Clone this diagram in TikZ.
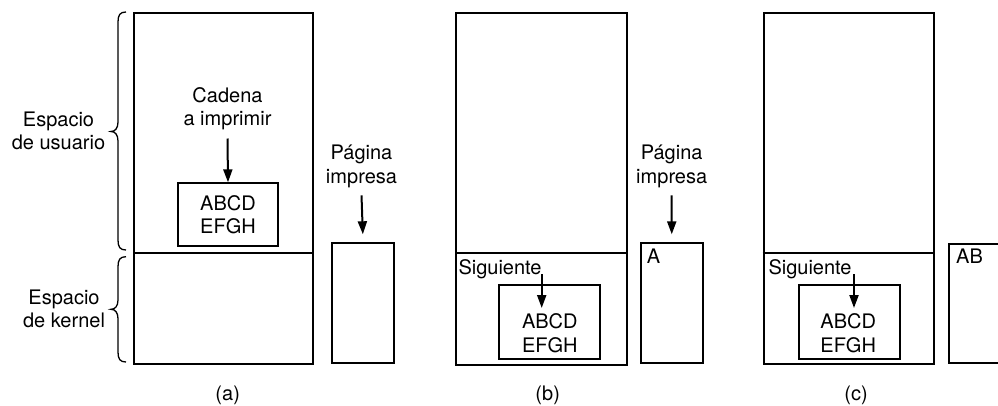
\documentclass[tikz,border=0pt]{standalone}
\usepackage{fontspec}
\setmainfont{TeX Gyre Heros}
\usetikzlibrary{arrows.meta}
\begin{document}
\begin{tikzpicture}[x=1pt,y=-1pt,
  box/.style={draw,line width=2pt,inner sep=0pt,anchor=north west},
  lbl/.style={font=\fontsize{20}{23.5}\selectfont,align=center,inner sep=0pt,anchor=north},
  arr/.style={line width=2pt,-{Triangle[length=13pt,width=9pt]}},
  bracestyle/.style={line width=1.3pt},
  divider/.style={line width=1.8pt}]
\useasboundingbox (0,0) rectangle (998,405);

% ---------- (a) ----------
\node[box,minimum width=178.4pt,minimum height=351.3pt] (ua) at (133.3,12) {};
\draw[divider] (133.3,253.3) -- (311.7,253.3);
\node[box,minimum width=100.6pt,minimum height=62.7pt] (ia) at (176.7,182.3) {};
\node[lbl] (abca) at (228,195) {ABCD\\EFGH};
\node[lbl] (cad) at (227.5,87.3) {Cadena\\a imprimir};
\draw[arr] ([yshift=-8pt]cad.south) -- (ia.north);
\node[box,minimum width=61.7pt,minimum height=120pt] (pga) at (331,242.3) {};
\node[lbl] (pa) at (361.5,145) {Página\\impresa};
\draw[arr] ([yshift=-7.5pt]pa.south) -- ([yshift=8pt]pga.north);
\node[lbl] (capa) at (227.7,385.5) {(a)};

% braces and labels
\draw[bracestyle] (126,12) .. controls (120,12) and (118,15) .. (118,22) -- (118,122)
  .. controls (118,128.5) and (115,131.5) .. (111,131.5)
  .. controls (115,131.5) and (118,134.5) .. (118,141) -- (118,240)
  .. controls (118,247) and (120,250) .. (126,250);
\draw[bracestyle] (126,256.7) .. controls (120,256.7) and (118,259.7) .. (118,266.7) -- (118,300)
  .. controls (118,306.3) and (115,309.3) .. (111,309.3)
  .. controls (115,309.3) and (118,312.3) .. (118,318.6) -- (118,352)
  .. controls (118,359) and (120,362) .. (126,362);
\node[lbl] (eu) at (58.5,111.7) {Espacio\\de usuario};
\node[lbl] (ek) at (64,289.3) {Espacio\\de kernel};

% ---------- (b) ----------
\node[box,minimum width=170.7pt,minimum height=352pt] (ub) at (455,12) {};
\draw[divider] (455,253.3) -- (625.7,253.3);
\node[box,minimum width=100.7pt,minimum height=74pt] (ib) at (498.3,283.7) {};
\node[lbl] (abcb) at (549.8,313.6) {ABCD\\EFGH};
\node[lbl,anchor=north west] (sb) at (458.3,259.3) {Siguiente};
\coordinate (tb) at (541.7,308);
\draw[arr] (sb.base -| tb) -- (tb);
\node[box,minimum width=61.5pt,minimum height=120pt] (pgb) at (640,242.3) {};
\node[lbl,anchor=north west] (ab) at (646.7,249) {A};
\node[lbl] (pb) at (671.7,145) {Página\\impresa};
\draw[arr] ([yshift=-7.5pt]pb.south) -- ([yshift=8pt]pgb.north);
\node[lbl] (capb) at (547.7,385.5) {(b)};

% ---------- (c) ----------
\node[box,minimum width=170.6pt,minimum height=351.3pt] (uc) at (762.7,12) {};
\draw[divider] (762.7,253.3) -- (933.3,253.3);
\node[box,minimum width=101.3pt,minimum height=74pt] (ic) at (797.7,283.7) {};
\node[lbl] (abcc) at (848.2,313.6) {ABCD\\EFGH};
\node[lbl,anchor=north west] (sc) at (768.3,259.3) {Siguiente};
\coordinate (tc) at (854,308);
\draw[arr] (sc.base -| tc) -- (tc);
\node[box,minimum width=62pt,minimum height=119.3pt] (pgc) at (947.7,242.5) {};
\node[lbl,anchor=north west] (ac) at (956,249) {AB};
\node[lbl] (capc) at (856,385.5) {(c)};
\end{tikzpicture}
\end{document}
